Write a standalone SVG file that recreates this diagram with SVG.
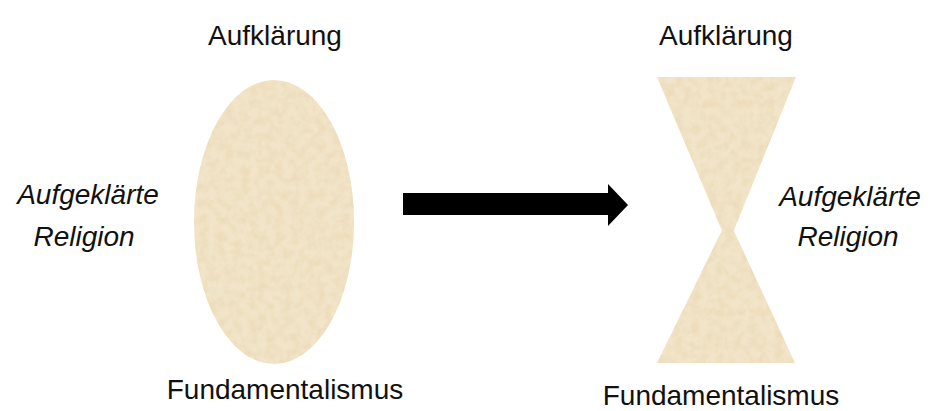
<svg xmlns="http://www.w3.org/2000/svg" width="931" height="411" viewBox="0 0 931 411">
<defs>
<filter id="tex" x="0" y="0" width="100%" height="100%">
<feTurbulence type="fractalNoise" baseFrequency="0.12" numOctaves="4" seed="7" result="n"/>
<feColorMatrix in="n" type="matrix" values="0 0 0 0 0.82  0 0 0 0 0.68  0 0 0 0 0.44  0 0 0 -1.3 0.85" result="c"/>
<feComposite in="c" in2="SourceGraphic" operator="in" result="m"/>
<feMerge><feMergeNode in="SourceGraphic"/><feMergeNode in="m"/></feMerge>
</filter>
<style>
.t{font-family:"Liberation Sans",Arial,sans-serif;font-size:28px;fill:#111;text-anchor:middle}
.i{font-style:italic}
.stone{fill:#f2e4c8;filter:url(#tex)}
</style>
</defs>
<rect width="931" height="411" fill="#fff"/>
<g id="left-shape"><ellipse class="stone" cx="274" cy="222" rx="80" ry="142"/></g>
<g id="right-shape"><path class="stone" d="M657,77 L796,77 L728,245 Z M728,218 L795,363 L657,363 Z"/></g>
<g id="connectors"><polygon points="403,193 608,193 608,184 628,205 608,226 608,215 403,215" fill="#000"/></g>
<g id="left-top"><text class="t" x="275" y="45">Aufklärung</text></g>
<g id="left-side"><text class="t i" x="88" y="204">Aufgeklärte</text><text class="t i" x="84" y="246">Religion</text></g>
<g id="left-bottom"><text class="t" x="285" y="399">Fundamentalismus</text></g>
<g id="right-top"><text class="t" x="726" y="45">Aufklärung</text></g>
<g id="right-side"><text class="t i" x="850" y="206">Aufgeklärte</text><text class="t i" x="848" y="246">Religion</text></g>
<g id="right-bottom"><text class="t" x="721" y="405">Fundamentalismus</text></g>
</svg>
